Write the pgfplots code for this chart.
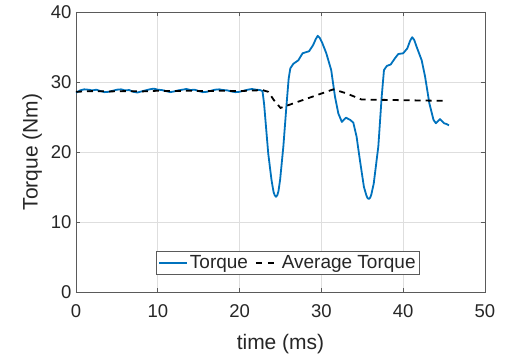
\documentclass[border=0pt]{standalone}
\usepackage{pgfplots}
\pgfplotsset{compat=1.18}
\usepackage{fontspec}
\setmainfont{Liberation Sans}
\definecolor{mblue}{RGB}{0,114,189}
\definecolor{axgray}{RGB}{90,90,90}
\pgfplotsset{dashlegend/.style={legend image code/.code={\draw[##1, dash pattern=on 6bp off 6bp] plot coordinates {(5bp,0bp) (28bp,0bp)};}}}
\begin{document}
\begin{tikzpicture}
\begin{axis}[
  name=ax,
  width=409bp, height=280bp, scale only axis,
  xmin=0, xmax=50, ymin=0, ymax=40,
  xtick={0,10,20,30,40,50}, ytick={0,10,20,30,40},
  grid=major,
  major grid style={draw=black!13, line width=0.6bp},
  tick align=inside,
  major tick length=4bp,
  axis line style={draw=axgray, line width=0.8bp},
  every tick/.style={draw=axgray, line width=0.8bp},
  /pgf/number format/assume math mode=true,
  ticklabel style={font=\fontsize{18.5bp}{20bp}\selectfont, text=black!85},
  xticklabel style={yshift=-9bp},
  yticklabel style={xshift=-1bp},
  xlabel={time (ms)},
  ylabel={Torque (Nm)},
  label style={font=\fontsize{21bp}{24bp}\selectfont, text=black!85},
  xlabel style={yshift=-10bp},
  ylabel style={yshift=2bp},
  legend columns=2,
  legend style={at={(axis cs:25.9,4.15)}, anchor=center, draw=axgray, line width=0.8bp,
    font=\fontsize{19bp}{21bp}\selectfont, text=black!85, inner xsep=1.5bp, inner ysep=2bp,
    /tikz/every even column/.append style={column sep=5bp}},
  legend image code/.code={\draw[#1] plot coordinates {(0bp,0bp) (28bp,0bp)};},
  legend cell align=left,
]
\addplot[mblue, line width=1.8bp, line join=round] coordinates {
(0,28.45) (0.5,28.8) (1.0,28.95) (1.5,28.9) (2.0,28.8) (2.5,28.9) (3.0,28.7) (3.5,28.55)
(4.0,28.6) (4.5,28.75) (5.0,28.9) (5.5,28.95) (6.0,28.8) (6.5,28.85) (7.0,28.6) (7.5,28.5)
(8.0,28.65) (8.5,28.8) (9.0,28.95) (9.5,29.05) (10,28.9) (10.5,28.85) (11,28.7) (11.5,28.55)
(12,28.65) (12.5,28.8) (13,28.9) (13.5,29.0) (14,28.85) (14.5,28.9) (15,28.7) (15.5,28.55)
(16,28.6) (16.5,28.75) (17,28.9) (17.5,28.95) (18,28.85) (18.5,28.8) (19,28.65) (19.5,28.55)
(20,28.6) (20.5,28.75) (21,28.9) (21.5,29.0) (22,28.9) (22.5,28.85) (22.8,28.7)
(23.0,26.8) (23.2,24.0) (23.5,19.8) (23.9,16.0) (24.15,14.3) (24.3,13.8) (24.45,13.6) (24.6,13.8) (24.75,14.4)
(24.95,16.0) (25.35,20.8) (25.75,26.95) (26.0,30.5) (26.2,31.95) (26.57,32.6) (27.18,33.1)
(27.7,34.1) (28.5,34.4) (29.0,35.3) (29.3,36.1) (29.55,36.6) (29.8,36.3) (30.1,35.6) (30.6,34.1)
(31.2,31.7) (31.66,27.9) (32.07,25.5) (32.5,24.3) (33.0,24.9) (33.5,24.6) (33.9,24.2)
(34.3,22.2) (34.7,18.9) (35.2,15.0) (35.5,13.8) (35.65,13.4) (35.8,13.3) (35.95,13.45) (36.1,13.9) (36.4,15.5)
(36.96,20.8) (37.37,27.9) (37.65,31.7) (38.0,32.3) (38.47,32.5) (39.0,33.4) (39.4,34.0)
(40.0,34.1) (40.5,34.8) (40.85,35.9) (41.1,36.4) (41.35,36.0) (41.65,35.0) (42.26,33.1) (42.67,30.8)
(43.2,26.95) (43.7,24.6) (44.0,24.1) (44.5,24.7) (45.0,24.1) (45.3,24.0) (45.6,23.8)
};
\addlegendentry{Torque}
\addplot[black, line width=1.8bp, dash pattern=on 6bp off 5bp, dashlegend] coordinates {
(0,28.6) (2,28.7) (4,28.65) (6,28.7) (8,28.65) (10,28.75) (12,28.7) (14,28.75) (16,28.7)
(18,28.75) (20,28.7) (22,28.8) (22.8,28.85) (23.5,28.6) (24.2,27.4) (25.0,26.3)
(31.46,28.95) (33.0,28.4) (34.9,27.5) (40,27.4) (45.3,27.3)
};
\addlegendentry{Average Torque}
\end{axis}
\path[use as bounding box] ([shift={(-76bp,-68bp)}]ax.south west) rectangle ([shift={(20bp,12bp)}]ax.north east);
\end{tikzpicture}
\end{document}
